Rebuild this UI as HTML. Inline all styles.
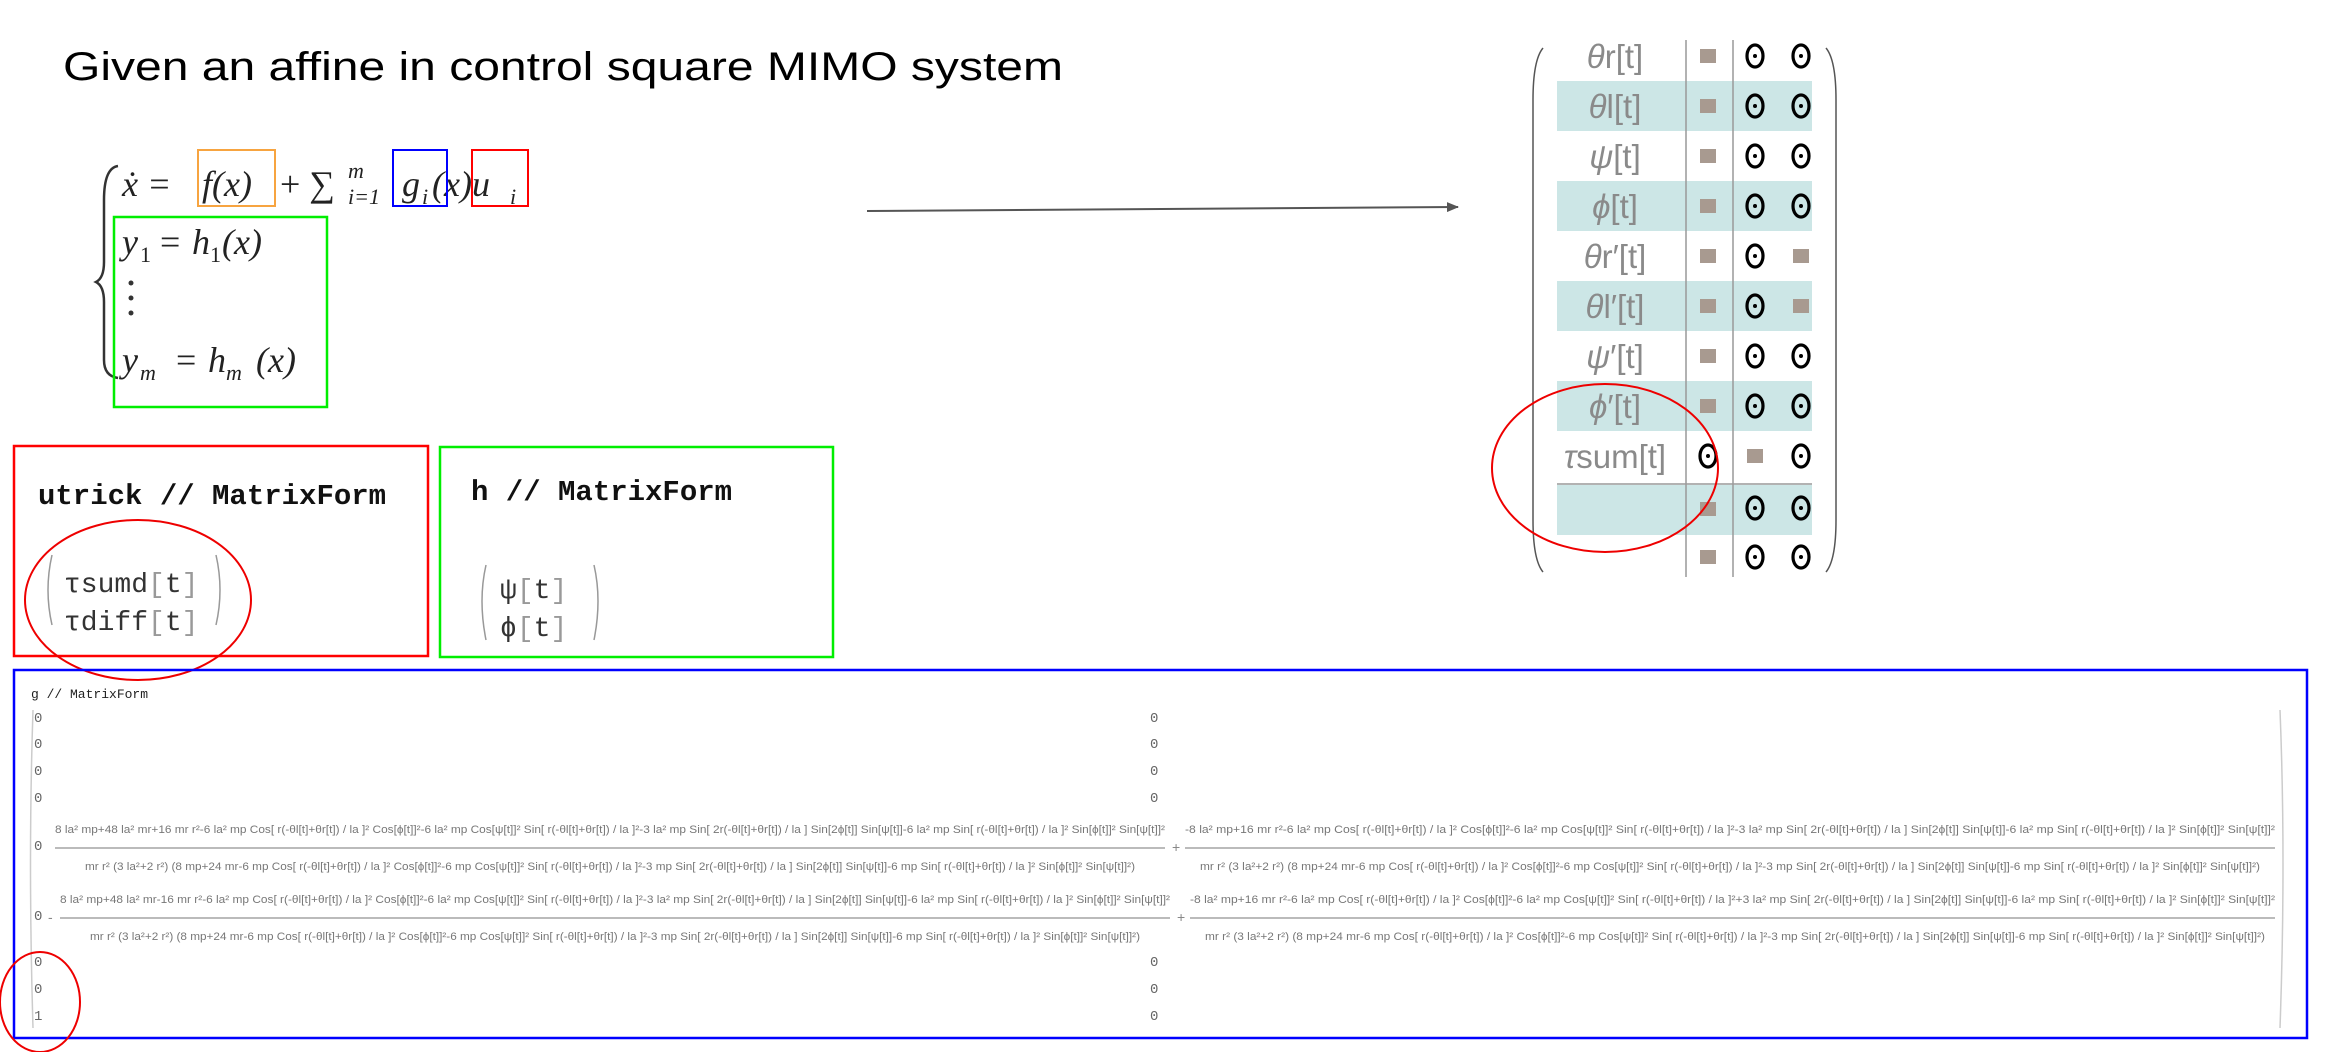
<!DOCTYPE html>
<html><head><meta charset="utf-8"><style>
html,body{margin:0;padding:0;background:#fff;width:2331px;height:1052px;overflow:hidden}
svg{display:block}
.serif{font-family:"Liberation Serif",serif;font-style:italic}
.mono{font-family:"Liberation Mono","DejaVu Sans Mono",monospace}
.sm{font-family:"Liberation Sans",sans-serif;fill:#888}
</style></head><body>
<svg width="2331" height="1052" viewBox="0 0 2331 1052" xmlns="http://www.w3.org/2000/svg">
<defs>
<marker id="ah" markerWidth="12" markerHeight="10" refX="11" refY="5" orient="auto" markerUnits="userSpaceOnUse"><path d="M0,0 L12,5 L0,10 z" fill="#555"/></marker>
<g id="z"><ellipse cx="0" cy="0" rx="8" ry="11" fill="none" stroke="#000" stroke-width="3.2"/><circle cx="0" cy="0" r="2" fill="#000"/></g>
</defs>

<text x="63" y="80" font-family="Liberation Sans,sans-serif" font-size="40" fill="#000" textLength="1000" lengthAdjust="spacingAndGlyphs">Given an affine in control square MIMO system</text>

<!-- equation -->
<path d="M118,166 Q104,168 104,200 L104,262 Q104,278 96,282 Q104,286 104,302 L104,360 Q104,376 118,378" fill="none" stroke="#333" stroke-width="2.5"/>
<g class="serif" font-size="36" fill="#222">
<text x="122" y="196">ẋ = </text>
<text x="202" y="196">f(x)</text>
<text x="280" y="196" font-style="normal">+ ∑</text>
<text x="348" y="178" font-size="22">m</text>
<text x="348" y="204" font-size="22">i=1</text>
<text x="402" y="196">g</text><text x="422" y="204" font-size="22">i</text>
<text x="432" y="196">(x)u</text><text x="510" y="204" font-size="22">i</text>
<text x="122" y="254">y</text><text x="140" y="262" font-size="22" font-style="normal">1</text><text x="160" y="254" font-style="normal">= </text><text x="192" y="254">h</text><text x="210" y="262" font-size="22" font-style="normal">1</text><text x="222" y="254">(x)</text>
<text x="122" y="372">y</text><text x="140" y="380" font-size="22">m</text><text x="176" y="372" font-style="normal">= </text><text x="208" y="372">h</text><text x="226" y="380" font-size="22">m</text><text x="256" y="372">(x)</text>
</g>
<circle cx="131" cy="283" r="2.5" fill="#333"/><circle cx="131" cy="298" r="2.5" fill="#333"/><circle cx="131" cy="313" r="2.5" fill="#333"/>
<rect x="198" y="150" width="77" height="56" fill="none" stroke="#f7a440" stroke-width="2"/>
<rect x="393" y="150" width="54" height="56" fill="none" stroke="#0000ff" stroke-width="2"/>
<rect x="472" y="150" width="56" height="56" fill="none" stroke="#ff0000" stroke-width="2"/>
<rect x="114" y="217" width="213" height="190" fill="none" stroke="#00ee00" stroke-width="2.5"/>

<!-- arrow -->
<line x1="867" y1="211" x2="1458" y2="207" stroke="#555" stroke-width="2" marker-end="url(#ah)"/>

<!-- utrick box -->
<rect x="14" y="446" width="414" height="210" fill="none" stroke="#ff0000" stroke-width="2.5"/>
<text x="38" y="504" class="mono" font-size="29" font-weight="bold" fill="#111">utrick // MatrixForm</text>
<path d="M52,555 Q44,590 52,625" fill="none" stroke="#999" stroke-width="1.5"/>
<path d="M216,555 Q224,590 216,625" fill="none" stroke="#999" stroke-width="1.5"/>
<text x="64" y="592" class="mono" font-size="28" fill="#333">τsumd<tspan fill="#999">[</tspan>t<tspan fill="#999">]</tspan></text>
<text x="64" y="630" class="mono" font-size="28" fill="#333">τdiff<tspan fill="#999">[</tspan>t<tspan fill="#999">]</tspan></text>
<ellipse cx="138" cy="600" rx="113" ry="80" fill="none" stroke="#ee0000" stroke-width="2"/>

<!-- h box -->
<rect x="440" y="447" width="393" height="210" fill="none" stroke="#00ee00" stroke-width="2.5"/>
<text x="471" y="500" class="mono" font-size="29" font-weight="bold" fill="#111">h // MatrixForm</text>
<path d="M486,565 Q478,600 486,640" fill="none" stroke="#999" stroke-width="1.5"/>
<path d="M594,565 Q602,600 594,640" fill="none" stroke="#999" stroke-width="1.5"/>
<text x="500" y="598" class="mono" font-size="28" fill="#333">ψ<tspan fill="#999">[</tspan>t<tspan fill="#999">]</tspan></text>
<text x="500" y="636" class="mono" font-size="28" fill="#333">ϕ<tspan fill="#999">[</tspan>t<tspan fill="#999">]</tspan></text>

<!-- right matrix -->
<g>
<rect x="1557" y="81" width="255" height="50" fill="#cce6e6"/>
<rect x="1557" y="181" width="255" height="50" fill="#cce6e6"/>
<rect x="1557" y="281" width="255" height="50" fill="#cce6e6"/>
<rect x="1557" y="381" width="255" height="50" fill="#cce6e6"/>
<rect x="1557" y="485" width="255" height="50" fill="#cce6e6"/>
<line x1="1557" y1="484" x2="1812" y2="484" stroke="#999" stroke-width="1.5"/>
<line x1="1686" y1="40" x2="1686" y2="577" stroke="#999" stroke-width="1.5"/>
<line x1="1733" y1="40" x2="1733" y2="577" stroke="#999" stroke-width="1.5"/>
<path d="M1543,48 Q1533,60 1533,100 L1533,520 Q1533,560 1543,572" fill="none" stroke="#555" stroke-width="1.5"/>
<path d="M1826,48 Q1836,60 1836,100 L1836,520 Q1836,560 1826,572" fill="none" stroke="#555" stroke-width="1.5"/>
<g font-family="Liberation Sans,sans-serif" font-size="33" fill="#8a8a8a" text-anchor="middle">
<text x="1615" y="68"><tspan font-style="italic">θ</tspan>r[t]</text>
<text x="1615" y="118"><tspan font-style="italic">θ</tspan>l[t]</text>
<text x="1615" y="168"><tspan font-style="italic">ψ</tspan>[t]</text>
<text x="1615" y="218"><tspan font-style="italic">ϕ</tspan>[t]</text>
<text x="1615" y="268"><tspan font-style="italic">θ</tspan>r′[t]</text>
<text x="1615" y="318"><tspan font-style="italic">θ</tspan>l′[t]</text>
<text x="1615" y="368"><tspan font-style="italic">ψ</tspan>′[t]</text>
<text x="1615" y="418"><tspan font-style="italic">ϕ</tspan>′[t]</text>
<text x="1615" y="468"><tspan font-style="italic">τ</tspan>sum[t]</text>
</g>
<g fill="#a89a90">
<rect x="1700" y="49" width="16" height="14"/><rect x="1700" y="99" width="16" height="14"/><rect x="1700" y="149" width="16" height="14"/><rect x="1700" y="199" width="16" height="14"/><rect x="1700" y="249" width="16" height="14"/><rect x="1700" y="299" width="16" height="14"/><rect x="1700" y="349" width="16" height="14"/><rect x="1700" y="399" width="16" height="14"/>
<rect x="1747" y="449" width="16" height="14"/>
<rect x="1700" y="502" width="16" height="14"/><rect x="1700" y="550" width="16" height="14"/>
<rect x="1793" y="249" width="16" height="14"/><rect x="1793" y="299" width="16" height="14"/>
</g>
<use href="#z" x="1755" y="56"/><use href="#z" x="1801" y="56"/>
<use href="#z" x="1755" y="106"/><use href="#z" x="1801" y="106"/>
<use href="#z" x="1755" y="156"/><use href="#z" x="1801" y="156"/>
<use href="#z" x="1755" y="206"/><use href="#z" x="1801" y="206"/>
<use href="#z" x="1755" y="256"/>
<use href="#z" x="1755" y="306"/>
<use href="#z" x="1755" y="356"/><use href="#z" x="1801" y="356"/>
<use href="#z" x="1755" y="406"/><use href="#z" x="1801" y="406"/>
<use href="#z" x="1708" y="456"/><use href="#z" x="1801" y="456"/>
<use href="#z" x="1755" y="508"/><use href="#z" x="1801" y="508"/>
<use href="#z" x="1755" y="557"/><use href="#z" x="1801" y="557"/>
<ellipse cx="1605" cy="468" rx="113" ry="84" fill="none" stroke="#ee0000" stroke-width="2"/>
</g>

<!-- g box -->
<rect x="14" y="670" width="2293" height="368" fill="none" stroke="#0000ff" stroke-width="2.5"/>
<text x="31" y="698" class="mono" font-size="13" fill="#222">g // MatrixForm</text>
<path d="M33,710 Q28,860 33,1028" fill="none" stroke="#ccc" stroke-width="1.5"/>
<path d="M2280,710 Q2286,860 2280,1028" fill="none" stroke="#ccc" stroke-width="1.5"/>
<g class="mono" font-size="14" fill="#666">
<text x="34" y="722">0</text><text x="1150" y="722">0</text>
<text x="34" y="748">0</text><text x="1150" y="748">0</text>
<text x="34" y="775">0</text><text x="1150" y="775">0</text>
<text x="34" y="802">0</text><text x="1150" y="802">0</text>
<text x="34" y="850">0</text>
<text x="34" y="920">0</text>
<text x="34" y="966">0</text><text x="1150" y="966">0</text>
<text x="34" y="993">0</text><text x="1150" y="993">0</text>
<text x="34" y="1020">1</text><text x="1150" y="1020">0</text>
</g>
<g stroke="#bbb" stroke-width="2">
<line x1="55" y1="848" x2="1165" y2="848"/><line x1="1185" y1="848" x2="2275" y2="848"/>
<line x1="60" y1="918" x2="1170" y2="918"/><line x1="1190" y1="918" x2="2275" y2="918"/>
</g>
<g class="sm" font-size="11" style="fill:#777">
<text x="55" y="833" textLength="1110" lengthAdjust="spacingAndGlyphs">8 la² mp+48 la² mr+16 mr r²-6 la² mp Cos[ r(-θl[t]+θr[t]) / la ]² Cos[ϕ[t]]²-6 la² mp Cos[ψ[t]]² Sin[ r(-θl[t]+θr[t]) / la ]²-3 la² mp Sin[ 2r(-θl[t]+θr[t]) / la ] Sin[2ϕ[t]] Sin[ψ[t]]-6 la² mp Sin[ r(-θl[t]+θr[t]) / la ]² Sin[ϕ[t]]² Sin[ψ[t]]²</text>
<text x="85" y="870" textLength="1050" lengthAdjust="spacingAndGlyphs">mr r² (3 la²+2 r²) (8 mp+24 mr-6 mp Cos[ r(-θl[t]+θr[t]) / la ]² Cos[ϕ[t]]²-6 mp Cos[ψ[t]]² Sin[ r(-θl[t]+θr[t]) / la ]²-3 mp Sin[ 2r(-θl[t]+θr[t]) / la ] Sin[2ϕ[t]] Sin[ψ[t]]-6 mp Sin[ r(-θl[t]+θr[t]) / la ]² Sin[ϕ[t]]² Sin[ψ[t]]²)</text>
<text x="1185" y="833" textLength="1090" lengthAdjust="spacingAndGlyphs">-8 la² mp+16 mr r²-6 la² mp Cos[ r(-θl[t]+θr[t]) / la ]² Cos[ϕ[t]]²-6 la² mp Cos[ψ[t]]² Sin[ r(-θl[t]+θr[t]) / la ]²-3 la² mp Sin[ 2r(-θl[t]+θr[t]) / la ] Sin[2ϕ[t]] Sin[ψ[t]]-6 la² mp Sin[ r(-θl[t]+θr[t]) / la ]² Sin[ϕ[t]]² Sin[ψ[t]]²</text>
<text x="1200" y="870" textLength="1060" lengthAdjust="spacingAndGlyphs">mr r² (3 la²+2 r²) (8 mp+24 mr-6 mp Cos[ r(-θl[t]+θr[t]) / la ]² Cos[ϕ[t]]²-6 mp Cos[ψ[t]]² Sin[ r(-θl[t]+θr[t]) / la ]²-3 mp Sin[ 2r(-θl[t]+θr[t]) / la ] Sin[2ϕ[t]] Sin[ψ[t]]-6 mp Sin[ r(-θl[t]+θr[t]) / la ]² Sin[ϕ[t]]² Sin[ψ[t]]²)</text>
<text x="60" y="903" textLength="1110" lengthAdjust="spacingAndGlyphs">8 la² mp+48 la² mr-16 mr r²-6 la² mp Cos[ r(-θl[t]+θr[t]) / la ]² Cos[ϕ[t]]²-6 la² mp Cos[ψ[t]]² Sin[ r(-θl[t]+θr[t]) / la ]²-3 la² mp Sin[ 2r(-θl[t]+θr[t]) / la ] Sin[2ϕ[t]] Sin[ψ[t]]-6 la² mp Sin[ r(-θl[t]+θr[t]) / la ]² Sin[ϕ[t]]² Sin[ψ[t]]²</text>
<text x="90" y="940" textLength="1050" lengthAdjust="spacingAndGlyphs">mr r² (3 la²+2 r²) (8 mp+24 mr-6 mp Cos[ r(-θl[t]+θr[t]) / la ]² Cos[ϕ[t]]²-6 mp Cos[ψ[t]]² Sin[ r(-θl[t]+θr[t]) / la ]²-3 mp Sin[ 2r(-θl[t]+θr[t]) / la ] Sin[2ϕ[t]] Sin[ψ[t]]-6 mp Sin[ r(-θl[t]+θr[t]) / la ]² Sin[ϕ[t]]² Sin[ψ[t]]²)</text>
<text x="1190" y="903" textLength="1085" lengthAdjust="spacingAndGlyphs">-8 la² mp+16 mr r²-6 la² mp Cos[ r(-θl[t]+θr[t]) / la ]² Cos[ϕ[t]]²-6 la² mp Cos[ψ[t]]² Sin[ r(-θl[t]+θr[t]) / la ]²+3 la² mp Sin[ 2r(-θl[t]+θr[t]) / la ] Sin[2ϕ[t]] Sin[ψ[t]]-6 la² mp Sin[ r(-θl[t]+θr[t]) / la ]² Sin[ϕ[t]]² Sin[ψ[t]]²</text>
<text x="1205" y="940" textLength="1060" lengthAdjust="spacingAndGlyphs">mr r² (3 la²+2 r²) (8 mp+24 mr-6 mp Cos[ r(-θl[t]+θr[t]) / la ]² Cos[ϕ[t]]²-6 mp Cos[ψ[t]]² Sin[ r(-θl[t]+θr[t]) / la ]²-3 mp Sin[ 2r(-θl[t]+θr[t]) / la ] Sin[2ϕ[t]] Sin[ψ[t]]-6 mp Sin[ r(-θl[t]+θr[t]) / la ]² Sin[ϕ[t]]² Sin[ψ[t]]²)</text>
</g>
<text x="1172" y="852" class="sm" font-size="14">+</text>
<text x="48" y="922" class="sm" font-size="14">-</text>
<text x="1177" y="922" class="sm" font-size="14">+</text>
<ellipse cx="40" cy="1002" rx="40" ry="50" fill="none" stroke="#ee0000" stroke-width="2"/>
</svg>
</body></html>
